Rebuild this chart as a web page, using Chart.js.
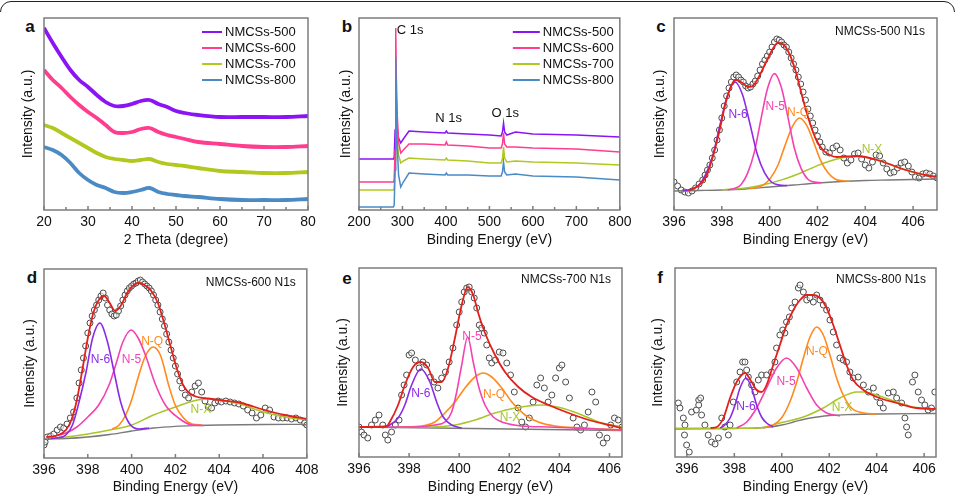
<!DOCTYPE html>
<html>
<head>
<meta charset="utf-8">
<script src="https://cdn.jsdelivr.net/npm/chart.js@4.4.0/dist/chart.umd.min.js"></script>
<style>
html, body { margin: 0; padding: 0; background: #fff; }
#wrap { position: relative; width: 957px; height: 496px; overflow: hidden; font-family: 'Liberation Sans', Arial, sans-serif; }
#wrap canvas { position: absolute; }
.frame { position: absolute; left: 0; top: 0; width: 957px; height: 12px; overflow: hidden; }
.frame div { position: absolute; left: 0; top: 1px; width: 953px; height: 60px; border: 1.5px solid #222; border-radius: 11px; }
.letter { position: absolute; font-weight: bold; font-size: 17px; line-height: 1; transform: translate(-50%, -50%); color: #111; }
</style>
</head>
<body>
<div id="wrap">
	<div class="frame"><div></div></div>
	<div class="letter" style="left:30px;top:26px">a</div>
	<div class="letter" style="left:347px;top:26px">b</div>
	<div class="letter" style="left:661px;top:26px">c</div>
	<div class="letter" style="left:32px;top:277px">d</div>
	<div class="letter" style="left:347px;top:278px">e</div>
	<div class="letter" style="left:660px;top:277px">f</div>
</div>
<script>
// ---- a: XRD ----
const xrdTheta = [20, 22, 24, 26, 28, 30, 32, 34, 36, 38, 40, 42, 44, 46, 48, 50, 52, 55, 60, 65, 70, 75, 80]
const xrd500 = [182, 167, 153, 140, 130, 123, 115, 108, 104, 104, 106, 109, 110, 106, 103, 99, 97, 95, 93, 93, 93, 93, 94]
const xrd600 = [140, 130, 122, 113, 105, 98, 92, 85, 78, 77, 78, 81, 82, 78, 75, 73, 71, 68, 66, 64, 63, 63, 64]
const xrd700 = [85, 82, 77, 72, 67, 62, 57, 53, 51, 50, 49, 50, 51, 48, 46, 45, 44, 42, 39, 38, 37, 37, 38]
const xrd800 = [63, 60, 55, 47, 37, 30, 25, 22, 18, 17, 18, 20, 22, 18, 16, 15, 14, 13, 11, 10, 10, 10, 11]
const xrdTicks = [20, 30, 40, 50, 60, 70, 80]
const xrdMinor = [25, 35, 45, 55, 65, 75]

// ---- b: XPS survey ----
const surveyEnergy = [200, 279, 281, 283, 284.5, 286, 288, 291, 296, 302, 315, 350, 398, 401, 404, 450, 500, 527, 530, 532.5, 535, 540, 560, 600, 700, 800]
const survey500 = [51, 51, 53, 80, 140, 105, 82, 72, 67, 71, 79, 78, 77, 79, 77, 76, 75, 74, 78, 87, 78, 75, 78, 76, 75, 73]
const survey600 = [28, 28, 30, 60, 182, 130, 95, 68, 57, 60, 66, 66, 65, 68, 65, 64, 62, 62, 66, 77, 66, 63, 63, 62, 61, 58]
const survey700 = [20, 20, 22, 50, 130, 95, 70, 55, 47, 49, 52, 51, 50, 52, 50, 49, 47, 47, 51, 63, 52, 48, 49, 48, 47, 45]
const survey800 = [3, 3, 5, 40, 153, 110, 65, 35, 23, 28, 37, 36, 35, 37, 35, 35, 34, 34, 38, 48, 38, 35, 36, 34, 33, 30]
const surveyTicks = [200, 300, 400, 500, 600, 700, 800]
const surveyMinor = [250, 350, 450, 550, 650, 750]

const sampleNames = ['NMCSs-500', 'NMCSs-600', 'NMCSs-700', 'NMCSs-800']

// ---- c: NMCSs-500 N1s ----
const cRawX = [396.0, 396.15, 396.3, 396.45, 396.6, 396.75, 396.9, 397.05, 397.2, 397.3, 397.4, 397.5, 397.6, 397.7, 397.8, 397.9, 398.0, 398.1, 398.2, 398.3, 398.4, 398.5, 398.6, 398.7, 398.8, 398.9, 399.0, 399.1, 399.2, 399.3, 399.4, 399.5, 399.6, 399.7, 399.8, 399.9, 400.0, 400.1, 400.2, 400.3, 400.4, 400.5, 400.6, 400.7, 400.8, 400.9, 401.0, 401.1, 401.2, 401.3, 401.4, 401.5, 401.6, 401.7, 401.8, 401.9, 402.0, 402.1, 402.2, 402.35, 402.5, 402.65, 402.8, 402.95, 403.1, 403.25, 403.4, 403.55, 403.7, 403.85, 404.0, 404.15, 404.3, 404.45, 404.6, 404.75, 404.9, 405.05, 405.2, 405.35, 405.5, 405.65, 405.8, 405.95, 406.1, 406.25, 406.4, 406.55, 406.7, 406.85, 407.0]
const cRawY = [28, 24, 20, 18, 17, 19, 22, 26, 30, 35, 40, 45, 52, 60, 70, 80, 92, 104, 114, 122, 128, 133, 135, 133, 130, 128, 124, 122, 123, 126, 129, 134, 140, 146, 150, 154, 158, 163, 168, 171, 170, 168, 165, 163, 158, 152, 146, 140, 133, 126, 118, 110, 101, 94, 87, 80, 74, 68, 63, 58, 57, 62, 64, 60, 52, 47, 50, 56, 57, 51, 45, 42, 48, 55, 54, 47, 41, 37, 38, 42, 47, 48, 44, 38, 33, 32, 36, 37, 36, 34, 32]
const cFitX = [396.6, 397.0, 397.33, 397.61, 397.89, 398.17, 398.45, 398.6, 398.87, 399.1, 399.29, 399.57, 399.85, 400.13, 400.34, 400.55, 400.83, 401.11, 401.39, 401.67, 401.95, 402.23, 402.51, 402.8, 403.2, 403.6, 404, 404.5, 405, 405.5, 406, 406.5, 407]
const cFitY = [19.5, 24, 33, 52, 78, 108, 127, 130, 127, 123, 124, 134, 148, 161, 167, 166, 156, 137, 111, 88, 70, 60, 55, 53, 53.5, 54, 53, 50, 46, 41.5, 38, 35, 33]
const cBaseX = [396, 397, 398, 399, 400, 401, 402, 403, 404, 405, 406, 407]
const cBaseY = [19, 19.5, 20, 21, 23, 25, 27, 28.5, 29.5, 30, 30.5, 31]
const cN6X = [396.38, 396.69, 397.0, 397.31, 397.62, 397.93, 398.24, 398.55, 398.86, 399.17, 399.48, 399.79, 400.1, 400.41, 400.72]
const cN6Y = [19.2, 20.4, 23.8, 34.8, 54.3, 85.7, 115, 128, 115.7, 86.9, 56, 37.1, 27.5, 24.9, 24.4]
const cN5X = [398.24, 398.52, 398.8, 399.08, 399.36, 399.64, 399.92, 400.2, 400.48, 400.76, 401.04, 401.32, 401.6, 401.88, 402.16]
const cN5Y = [20.2, 21.6, 25.3, 36.9, 57.9, 91.2, 122.2, 136.4, 123.4, 93.4, 61.3, 41.4, 30.7, 27.9, 27.3]
const cNQX = [399.15, 399.45, 399.75, 400.05, 400.35, 400.65, 400.95, 401.25, 401.55, 401.85, 402.15, 402.45, 402.75, 403.05, 403.35]
const cNQY = [21.3, 22.6, 25.2, 32.4, 45, 64.9, 83.4, 92, 84.6, 67.3, 48.6, 37, 30.8, 29.2, 28.8]
const cNXX = [398, 398.5, 399, 399.5, 400, 400.5, 401, 401.5, 402, 402.5, 403, 403.5, 404, 404.5, 405, 405.5, 406, 406.5, 407]
const cNXY = [20.2, 21, 22.1, 24.1, 26.7, 30.1, 34.3, 39.2, 44.4, 48.8, 52, 53.5, 52.8, 49.9, 45.7, 41.5, 37.9, 34.9, 33.2]

// ---- d: NMCSs-600 N1s ----
const dRawX = [396.0, 396.05, 396.15, 396.3, 396.45, 396.6, 396.75, 396.9, 397.05, 397.2, 397.35, 397.5, 397.6, 397.7, 397.8, 397.9, 398.0, 398.1, 398.2, 398.3, 398.4, 398.5, 398.6, 398.7, 398.8, 398.9, 399.0, 399.1, 399.2, 399.3, 399.4, 399.5, 399.6, 399.7, 399.8, 399.9, 400.0, 400.1, 400.2, 400.3, 400.4, 400.5, 400.6, 400.7, 400.8, 400.9, 401.0, 401.1, 401.2, 401.3, 401.4, 401.5, 401.6, 401.7, 401.8, 401.9, 402.0, 402.1, 402.2, 402.3, 402.45, 402.6, 402.75, 402.9, 403.05, 403.2, 403.35, 403.5, 403.65, 403.8, 403.95, 404.1, 404.3, 404.5, 404.7, 404.9, 405.1, 405.3, 405.5, 405.7, 405.9, 406.1, 406.3, 406.5, 406.7, 406.9, 407.1, 407.3, 407.5, 407.7, 407.9, 408.0]
const dRawY = [13, 16, 21, 22, 24, 28, 31, 30, 34, 40, 46, 60, 75, 88, 100, 112, 125, 135, 142, 148, 153, 158, 162, 165, 160, 153, 148, 144, 142, 143, 147, 152, 158, 163, 167, 170, 172, 174, 175, 177, 178, 176, 174, 172, 170, 167, 163, 158, 153, 146, 139, 132, 124, 116, 108, 100, 92, 84, 77, 70, 63, 60, 66, 72, 75, 66, 57, 51, 50, 55, 57, 56, 57, 56, 55, 54, 52, 48, 45, 40, 43, 50, 48, 41, 40, 40, 40, 39, 40, 38, 35, 33]
const dFitX = [396.1, 396.5, 397.0, 397.25, 397.5, 397.75, 398.0, 398.25, 398.5, 398.75, 399.0, 399.25, 399.5, 399.75, 400.0, 400.3, 400.6, 400.9, 401.2, 401.5, 401.8, 402.1, 402.4, 402.7, 403.0, 403.5, 404, 405, 406, 407, 408]
const dFitY = [21, 22, 28, 38, 58, 88, 120, 145, 158, 162, 155, 147, 152, 163, 171, 175, 173, 167, 155, 134, 110, 87, 71, 64, 61, 59.5, 58, 55, 48.5, 43, 39]
const dBaseX = [396, 397, 398, 399, 400, 401, 402, 403, 404, 406, 408]
const dBaseY = [19, 19.5, 21, 23.5, 27, 30, 31.7, 32.5, 33, 33.5, 33.7]
const dN6X = [396.3, 396.56, 397.0, 397.3, 397.6, 397.92, 398.22, 398.55, 398.9, 399.2, 399.5, 399.88, 400.33, 400.8]
const dN6Y = [19.5, 20, 23, 33, 56, 86, 120, 135, 116, 86, 56, 35, 29, 30]
const dN5X = [396.3, 397, 397.5, 398, 398.5, 398.97, 399.3, 399.6, 399.98, 400.3, 400.63, 401.1, 401.54, 402.14, 402.75, 403.3]
const dN5Y = [21, 25, 31, 41, 53, 73, 95, 116, 128, 120, 103, 73, 53, 40, 33, 32.5]
const dNQX = [399.12, 399.43, 399.73, 400.03, 400.33, 400.63, 400.98, 401.33, 401.69, 401.99, 402.37, 402.75, 403.2]
const dNQY = [29, 33, 43, 60, 83, 102, 111, 102, 73, 53, 40, 34, 33]
const dNXX = [396.26, 397, 398, 399, 400, 401, 402, 403, 403.5, 404, 405, 406, 407, 408]
const dNXY = [19.7, 21, 24, 28, 33, 43, 51, 58, 59, 58, 53.7, 46, 41, 38]

// ---- e: NMCSs-700 N1s ----
const eRawX = [396.0, 396.1, 396.2, 396.35, 396.5, 396.65, 396.8, 396.95, 397.05, 397.15, 397.3, 397.45, 397.6, 397.7, 397.8, 397.9, 398.0, 398.1, 398.25, 398.4, 398.55, 398.7, 398.85, 399.0, 399.15, 399.3, 399.45, 399.6, 399.75, 399.9, 400.0, 400.1, 400.2, 400.3, 400.4, 400.5, 400.6, 400.7, 400.8, 400.9, 401.0, 401.1, 401.2, 401.3, 401.45, 401.6, 401.75, 401.9, 402.05, 402.2, 402.35, 402.5, 402.65, 402.8, 402.95, 403.1, 403.25, 403.4, 403.55, 403.7, 403.85, 404.0, 404.1, 404.25, 404.4, 404.55, 404.7, 404.85, 405.0, 405.15, 405.3, 405.45, 405.6, 405.75, 405.9, 406.05, 406.2, 406.35, 406.5]
const eRawY = [30, 25, 22, 19, 32, 37, 42, 32, 22, 17, 25, 32, 37, 62, 72, 82, 102, 104, 97, 89, 95, 92, 80, 75, 69, 79, 85, 95, 109, 132, 145, 155, 165, 169, 170, 165, 159, 149, 132, 129, 124, 112, 99, 94, 97, 105, 104, 94, 82, 65, 49, 35, 30, 39, 55, 72, 79, 69, 55, 62, 79, 89, 92, 75, 59, 39, 30, 27, 32, 45, 65, 55, 22, 14, 19, 32, 39, 37, 30]
const eFitX = [396, 397.1, 397.23, 397.56, 397.83, 398.16, 398.47, 398.76, 399.03, 399.3, 399.56, 399.83, 400.1, 400.34, 400.56, 400.76, 401.03, 401.43, 401.83, 402.36, 402.9, 403.57, 404.37, 405.17, 405.97, 406.5]
const eFitY = [30, 30.5, 35, 52, 72, 90, 95, 89, 75, 75, 89, 119, 152, 170, 162, 144, 124, 102, 85, 70, 60, 52, 44, 37, 32, 29]
const eBaseX = [396, 406.5]
const eBaseY = [30, 26.5]
const eN6X = [396.9, 397.23, 397.56, 397.83, 398.1, 398.47, 398.83, 399.1, 399.36, 399.7, 400.1]
const eN6Y = [30, 32, 39, 52, 72, 88, 75, 55, 40, 32, 29]
const eN5X = [396, 398.2, 399.03, 399.43, 399.7, 399.9, 400.1, 400.34, 400.56, 400.76, 401.03, 401.36, 401.83, 402.5, 403.57, 406.5]
const eN5Y = [30, 30, 32, 35, 45, 65, 92, 120, 95, 72, 52, 40, 34, 31, 30, 27]
const eNQX = [397.7, 398.5, 399.03, 399.43, 399.83, 400.23, 400.63, 400.96, 401.3, 401.7, 402.1, 402.63, 403.16, 403.83, 404.9, 406.5]
const eNQY = [30, 31, 35, 44, 55, 69, 80, 84, 80, 69, 55, 42, 35, 31, 29, 27]
const eNXX = [397.5, 398.9, 399.83, 400.63, 401.43, 402.23, 403.3, 404.1, 404.9, 405.57, 406.5]
const eNXY = [30, 30, 32, 37, 44, 49, 52, 49, 42, 35, 30]

// ---- f: NMCSs-800 N1s ----
const fRawX = [395.64, 395.71, 395.85, 395.92, 395.9, 395.99, 396.1, 396.2, 396.4, 396.5, 396.58, 396.5, 396.62, 396.76, 396.9, 397.04, 397.19, 397.33, 397.47, 397.6, 397.75, 397.82, 397.96, 398.1, 398.24, 398.35, 398.45, 398.52, 398.59, 398.73, 398.87, 399.01, 399.15, 399.36, 399.57, 399.71, 399.78, 399.92, 400.04, 400.13, 400.2, 400.32, 400.42, 400.56, 400.7, 400.77, 400.91, 401.05, 401.19, 401.33, 401.47, 401.61, 401.75, 401.89, 402.03, 402.17, 402.31, 402.45, 402.59, 402.73, 402.87, 403.01, 403.22, 403.44, 403.65, 403.86, 404.0, 404.14, 404.28, 404.49, 404.7, 404.84, 405.05, 405.19, 405.26, 405.33, 405.51, 405.61, 405.75, 405.89, 406.03, 406.17, 406.31, 406.45]
const fRawY = [54, 49, 39, 32, 22, 12, 5, 45, 47, 57, 59, 52, 42, 32, 22, 15, 13, 19, 39, 30, 22, 32, 55, 75, 85, 95, 95, 87, 80, 72, 65, 77, 82, 82, 85, 95, 109, 122, 127, 124, 135, 140, 149, 155, 169, 172, 165, 157, 159, 155, 162, 157, 152, 147, 137, 125, 112, 99, 97, 95, 85, 79, 80, 72, 65, 69, 60, 54, 49, 64, 65, 59, 54, 39, 30, 22, 75, 82, 65, 57, 52, 47, 49, 65]
const fFitX = [397.0, 397.26, 397.54, 397.82, 398.1, 398.45, 398.73, 398.94, 399.15, 399.36, 399.64, 399.92, 400.2, 400.49, 400.77, 401.05, 401.33, 401.61, 401.89, 402.17, 402.45, 402.73, 403.01, 403.44, 404, 404.84, 405.68, 406.5]
const fFitY = [29, 30, 39, 59, 75, 84, 75, 67, 65, 72, 92, 112, 132, 147, 157, 162, 162, 159, 149, 132, 112, 92, 77, 67, 60, 54, 49, 48]
const fBaseX = [395.5, 398, 399, 399.5, 400, 400.5, 401, 401.5, 402, 403, 404, 406.5]
const fBaseY = [28, 28.5, 29, 30, 32, 35, 38, 40, 41.5, 42.5, 43, 43.5]
const fN6X = [397.4, 397.6, 397.82, 398.03, 398.24, 398.49, 398.73, 398.94, 399.15, 399.36, 399.64]
const fN6Y = [29, 32, 39, 52, 69, 79, 69, 52, 40, 34, 30]
const fN5X = [398.1, 398.52, 398.94, 399.36, 399.78, 400.2, 400.63, 401.05, 401.47, 401.89, 402.45]
const fN5Y = [29, 35, 49, 69, 89, 99, 89, 69, 52, 44, 41]
const fNQX = [399.2, 399.64, 399.99, 400.34, 400.63, 400.91, 401.19, 401.47, 401.75, 402.03, 402.31, 402.59, 402.94, 403.44, 404]
const fNQY = [29, 32, 39, 55, 75, 99, 120, 130, 122, 102, 79, 62, 49, 44, 43]
const fNXX = [395.5, 397, 399, 399.92, 400.91, 401.75, 402.45, 403.15, 403.44, 404, 404.84, 405.54, 406.5]
const fNXY = [28.7, 28.7, 29, 34, 40, 49, 59, 65, 65, 62, 55, 50, 48]

const n1sTicks12 = [396, 398, 400, 402, 404, 406, 408]
const n1sTicks10 = [396, 398, 400, 402, 404, 406]

// colours
const cPurple = '#8b14f5', cPink = '#ff3d8f', cGreen = '#b3c81e', cBlue = '#4a8bc6'
const nPurple = '#8a2be6', nPink = '#f442b2', nOrange = '#ff8a1e', nGreen = '#a8c62a', nRed = '#e3201b', nGray = '#7a7a7a'
const FONT = "'Liberation Sans', Arial, sans-serif"

Chart.defaults.font.family = FONT
Chart.defaults.font.size = 14
Chart.defaults.color = '#111'

const xy = (xs, ys) => xs.map((x, i) => ({ x: x, y: ys[i] }))

const curve = (xs, ys, color, width, order, smooth) => ({
	data: xy(xs, ys),
	borderColor: color,
	borderWidth: width,
	pointRadius: 0,
	fill: false,
	order: order,
	cubicInterpolationMode: smooth ? 'monotone' : 'default',
	tension: 0
})

const dots = (xs, ys) => ({
	data: xy(xs, ys),
	showLine: false,
	pointRadius: 3,
	pointBorderWidth: 1,
	pointBorderColor: '#4d4d4d',
	pointBackgroundColor: 'rgba(255,255,255,0.55)',
	borderColor: '#4d4d4d',
	order: 10
})

//frame, inward ticks, text labels, legend
const decor = {
	id: 'decor',
	afterDatasetsDraw(chart, args, o) {
		const { ctx, chartArea: a } = chart
		const sx = chart.scales.x, sy = chart.scales.y
		ctx.save()
		ctx.strokeStyle = '#7d7d7d'
		ctx.lineWidth = 1.5
		ctx.strokeRect(a.left, a.top, a.right - a.left, a.bottom - a.top)
		ctx.beginPath()
		sx.ticks.forEach(t => {
			const px = sx.getPixelForValue(t.value)
			ctx.moveTo(px, a.bottom)
			ctx.lineTo(px, a.bottom - 4)
		})
		;(o.minor || []).forEach(v => {
			const px = sx.getPixelForValue(v)
			ctx.moveTo(px, a.bottom)
			ctx.lineTo(px, a.bottom - 3)
		})
		ctx.stroke()

		ctx.textBaseline = 'middle'
		;(o.labels || []).forEach(l => {
			ctx.font = l.size + 'px ' + FONT
			ctx.fillStyle = l.color
			ctx.textAlign = l.align || 'center'
			ctx.fillText(l.text, sx.getPixelForValue(l.x), sy.getPixelForValue(l.y))
		})

		if (o.legend) {
			const lg = o.legend
			ctx.font = '13px ' + FONT
			ctx.textAlign = 'left'
			ctx.lineWidth = 2
			lg.colors.forEach((c, i) => {
				const yy = a.top + lg.y0 + i * lg.dy
				ctx.strokeStyle = c
				ctx.beginPath()
				ctx.moveTo(a.right - lg.x0, yy)
				ctx.lineTo(a.right - lg.x1, yy)
				ctx.stroke()
				ctx.fillStyle = '#111'
				ctx.fillText(sampleNames[i], a.right - lg.tx, yy)
			})
		}

		if (o.title) {
			ctx.font = '12px ' + FONT
			ctx.fillStyle = '#111'
			ctx.textAlign = 'right'
			ctx.fillText(o.title, a.right - o.tdx, a.top + o.tdy)
		}
		ctx.restore()
	}
}

const panel = p => {
	const cv = document.createElement('canvas')
	cv.width = p.w
	cv.height = p.h
	cv.style.left = p.left + 'px'
	cv.style.top = p.top + 'px'
	document.getElementById('wrap').appendChild(cv)
	return new Chart(cv, {
		type: 'line',
		data: { datasets: p.datasets },
		options: {
			responsive: false,
			animation: false,
			devicePixelRatio: 1,
			layout: { padding: p.pad },
			plugins: {
				legend: { display: false },
				tooltip: { enabled: false },
				decor: p.decor
			},
			scales: {
				x: {
					type: 'linear',
					min: p.xMin,
					max: p.xMax,
					afterBuildTicks: s => { s.ticks = p.xTicks.map(v => ({ value: v })) },
					afterFit: s => { s.height = p.xH },
					grid: { display: false, drawTicks: false },
					border: { display: false },
					ticks: { font: { size: 14 }, padding: 3.5, maxRotation: 0, autoSkip: false, color: '#111' },
					title: { display: true, text: p.xTitle, font: { size: 14 }, padding: { top: 0, bottom: p.xtp }, color: '#111' }
				},
				y: {
					min: 0,
					max: p.yMax,
					afterFit: s => { s.width = p.yW },
					grid: { display: false, drawTicks: false },
					border: { display: false },
					ticks: { display: false },
					title: { display: true, text: 'Intensity (a.u.)', font: { size: 14 }, padding: { top: p.ytp, bottom: 0 }, color: '#111' }
				}
			}
		},
		plugins: [decor]
	})
}

const n1sSet = (raw, fit, base, n6, n5, nq, nx) => [
	dots(raw[0], raw[1]),
	curve(base[0], base[1], nGray, 1.3, 6, true),
	curve(nx[0], nx[1], nGreen, 1.5, 5, true),
	curve(nq[0], nq[1], nOrange, 1.6, 4, true),
	curve(n5[0], n5[1], nPink, 1.6, 3, true),
	curve(n6[0], n6[1], nPurple, 1.6, 2, true),
	curve(fit[0], fit[1], nRed, 1.8, 0, true)
]

const nLabels = pos => [
	{ text: 'N-6', color: nPurple, size: 12, x: pos[0][0], y: pos[0][1] },
	{ text: 'N-5', color: nPink, size: 12, x: pos[1][0], y: pos[1][1] },
	{ text: 'N-Q', color: nOrange, size: 12, x: pos[2][0], y: pos[2][1] },
	{ text: 'N-X', color: nGreen, size: 12, x: pos[3][0], y: pos[3][1] }
]

// a
panel({
	left: 0, top: 0, w: 320, h: 250, pad: { left: 0, top: 18, right: 12, bottom: 0 },
	yW: 44, xH: 40, ytp: 20, xtp: 1, xMin: 20, xMax: 80, yMax: 192,
	xTicks: xrdTicks, xTitle: '2 Theta (degree)',
	datasets: [
		{ ...curve(xrdTheta, xrd800, cBlue, 3.8, 4, false), tension: 0.35 },
		{ ...curve(xrdTheta, xrd700, cGreen, 3.8, 3, false), tension: 0.35 },
		{ ...curve(xrdTheta, xrd600, cPink, 3.8, 2, false), tension: 0.35 },
		{ ...curve(xrdTheta, xrd500, cPurple, 3.8, 1, false), tension: 0.35 }
	],
	decor: { minor: xrdMinor, legend: { colors: [cPurple, cPink, cGreen, cBlue], x0: 106, x1: 86, tx: 83, y0: 14, dy: 16 } }
})

// b
panel({
	left: 315, top: 0, w: 320, h: 250, pad: { left: 0, top: 18, right: 13, bottom: 0 },
	yW: 44, xH: 40, ytp: 23, xtp: 1, xMin: 200, xMax: 800, yMax: 192,
	xTicks: surveyTicks, xTitle: 'Binding Energy (eV)',
	datasets: [
		curve(surveyEnergy, survey800, cBlue, 1.5, 1, false),
		curve(surveyEnergy, survey700, cGreen, 1.5, 3, false),
		curve(surveyEnergy, survey600, cPink, 1.5, 2, false),
		curve(surveyEnergy, survey500, cPurple, 1.5, 4, false)
	],
	decor: {
		minor: surveyMinor,
		legend: { colors: [cPurple, cPink, cGreen, cBlue], x0: 107, x1: 80, tx: 77, y0: 14, dy: 16 },
		labels: [
			{ text: 'C 1s', color: '#111', size: 13, x: 287, y: 180, align: 'left' },
			{ text: 'N 1s', color: '#111', size: 13, x: 406, y: 92 },
			{ text: 'O 1s', color: '#111', size: 13, x: 536.5, y: 97 }
		]
	}
})

// c
panel({
	left: 630, top: 0, w: 327, h: 250, pad: { left: 0, top: 18, right: 20, bottom: 0 },
	yW: 44, xH: 40, ytp: 21.6, xtp: 1, xMin: 396, xMax: 407, yMax: 192,
	xTicks: n1sTicks10, xTitle: 'Binding Energy (eV)',
	datasets: n1sSet([cRawX, cRawY], [cFitX, cFitY], [cBaseX, cBaseY], [cN6X, cN6Y], [cN5X, cN5Y], [cNQX, cNQY], [cNXX, cNXY]),
	decor: {
		title: 'NMCSs-500 N1s', tdx: 12, tdy: 14,
		labels: nLabels([[398.68, 95], [400.23, 103], [401.19, 97], [404.28, 60]])
	}
})

// d
panel({
	left: 0, top: 245, w: 322, h: 251, pad: { left: 0, top: 24, right: 13, bottom: 0 },
	yW: 44, xH: 38, ytp: 21.6, xtp: 0, xMin: 396, xMax: 408, yMax: 189,
	xTicks: n1sTicks12, xTitle: 'Binding Energy (eV)',
	datasets: n1sSet([dRawX, dRawY], [dFitX, dFitY], [dBaseX, dBaseY], [dN6X, dN6Y], [dN5X, dN5Y], [dNQX, dNQY], [dNXX, dNXY]),
	decor: {
		title: 'NMCSs-600 N1s', tdx: 11, tdy: 14,
		labels: nLabels([[398.58, 98], [399.99, 98], [400.94, 116], [403.16, 48]])
	}
})

// e
panel({
	left: 315, top: 245, w: 320, h: 251, pad: { left: 0, top: 23, right: 13, bottom: 0 },
	yW: 44, xH: 39, ytp: 20, xtp: 0, xMin: 396, xMax: 406.5, yMax: 189,
	xTicks: n1sTicks10, xTitle: 'Binding Energy (eV)',
	datasets: n1sSet([eRawX, eRawY], [eFitX, eFitY], [eBaseX, eBaseY], [eN6X, eN6Y], [eN5X, eN5Y], [eNQX, eNQY], [eNXX, eNXY]),
	decor: {
		title: 'NMCSs-700 N1s', tdx: 11, tdy: 12,
		labels: nLabels([[398.47, 63], [400.51, 120], [401.39, 62], [402.03, 39]])
	}
})

// f
panel({
	left: 630, top: 245, w: 327, h: 251, pad: { left: 0, top: 23, right: 21, bottom: 0 },
	yW: 45, xH: 39, ytp: 20, xtp: 0, xMin: 395.5, xMax: 406.5, yMax: 189,
	xTicks: n1sTicks10, xTitle: 'Binding Energy (eV)',
	datasets: n1sSet([fRawX, fRawY], [fFitX, fFitY], [fBaseX, fBaseY], [fN6X, fN6Y], [fN5X, fN5Y], [fNQX, fNQY], [fNXX, fNXY]),
	decor: {
		title: 'NMCSs-800 N1s', tdx: 10, tdy: 12,
		labels: nLabels([[398.49, 50], [400.18, 75], [401.48, 105], [402.54, 49]])
	}
})
</script>
</body>
</html>
